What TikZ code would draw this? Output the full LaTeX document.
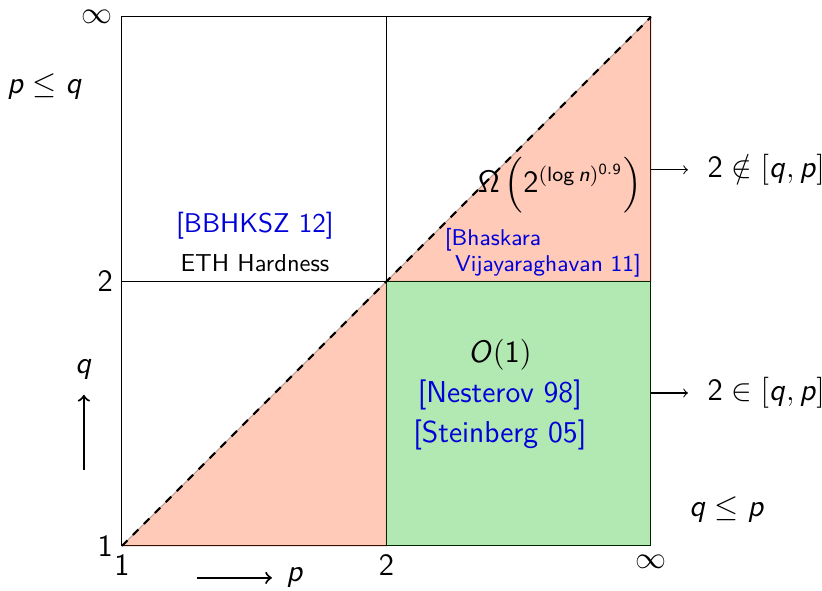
\documentclass[tikz,border=0pt]{standalone}
\usepackage{amsmath}
\usepackage{amssymb}
\usepackage{xcolor}
\usepackage{tikz}
\renewcommand{\familydefault}{\sfdefault}
% sans math letters and digits
\DeclareSymbolFont{sfitletters}{OT1}{cmss}{m}{sl}
\DeclareSymbolFont{sfupright}{OT1}{cmss}{m}{n}
\DeclareMathSymbol{p}{\mathalpha}{sfitletters}{`p}
\DeclareMathSymbol{q}{\mathalpha}{sfitletters}{`q}
\DeclareMathSymbol{n}{\mathalpha}{sfitletters}{`n}
\DeclareMathSymbol{O}{\mathalpha}{sfitletters}{`O}
\DeclareMathSymbol{0}{\mathalpha}{sfupright}{`0}
\DeclareMathSymbol{1}{\mathalpha}{sfupright}{`1}
\DeclareMathSymbol{2}{\mathalpha}{sfupright}{`2}
\DeclareMathSymbol{9}{\mathalpha}{sfupright}{`9}
\renewcommand{\log}{\mathop{\mathsf{log}}\nolimits}
\newcommand{\sfOmega}{\text{\sffamily\upshape Ω}}
\tikzset{
  pinkreg/.style={fill=red!50!orange,draw=black,opacity=0.28},
  greenreg/.style={fill=green!70!black,draw=black,opacity=0.3},
  cite/.style={text=blue!85!black}
}
\begin{document}
\begin{tikzpicture}[x=3.6cm,y=3.6cm,font=\sffamily]
\useasboundingbox (-0.461,-0.170) rectangle (2.647,2.064);
\draw (0,0) rectangle (2,2);
\draw (1,0) -- (1,2);
\draw (0,1) -- (2,1);
\filldraw[pinkreg] (0,0) -- (1,0) -- (1,1) -- cycle;
\filldraw[pinkreg] (1,1) -- (2,2) -- (2,1) -- cycle;
\filldraw[greenreg] (1,0) rectangle (2,1);
\draw[thick,dashed] (0,0) -- (2,2);
% tick labels
\node[left] (yone) at (0,0) {\large $1$};
\node[left] (ytwo) at (0,1) {\large $2$};
\node[left] (yinf) at (0,2) {\large $\infty$};
\node[below] (xone) at (0,0) {\large $1$};
\node[below] (xtwo) at (1,0) {\large $2$};
\node[below] (xinf) at (2,0) {\large $\infty$};
% axis arrows
\coordinate (qs) at (-0.144,0.287);
\coordinate (qe) at (-0.144,0.571);
\draw[thick,->] (qs) -- (qe);
\node (qlab) at (-0.144,0.665) {\large $q$};
\coordinate (ps) at (0.284,-0.121);
\coordinate (pe) at (0.567,-0.121);
\draw[thick,->] (ps) -- (pe);
\node (plab) at (0.654,-0.121) {\large $p$};
\node (pleq) at (-0.291,1.738) {\large $p \leq q$};
\node (qleq) at (2.287,0.136) {\large $q \leq p$};
% regions
\node[align=center,font=\sffamily\fontsize{9.5}{15}\selectfont] (eth) at (0.503,1.148) {\fontsize{10.5}{15}\selectfont\color{blue!85!black}[BBHKSZ 12]\\ ETH Hardness};
\node[inner sep=1pt] (omega) at (1.656,1.365) {\large $\sfOmega\left(2^{(\log n)^{0.9}}\right)$};
\node[cite,align=left,font=\sffamily\fontsize{8.85}{10}\selectfont] (bhask) at (1.592,1.108) {[Bhaskara\\\hspace{0.45em}Vijayaraghavan 11]};
\node[align=center,font=\sffamily\fontsize{11.7}{15.5}\selectfont] (ones) at (1.429,0.571) {$O(1)$\\ \color{blue!85!black}[Nesterov 98]\\ \color{blue!85!black}[Steinberg 05]};
% right side
\coordinate (ua) at (2,1.422);
\coordinate (ub) at (2.14,1.422);
\draw[->] (ua) -- (ub);
\node[anchor=west] (notin) at (2.18,1.422) {\large $2 \notin [q,p]$};
\coordinate (la) at (2,0.578);
\coordinate (lb) at (2.14,0.578);
\draw[->] (la) -- (lb);
\node[anchor=west] (isin) at (2.18,0.578) {\large $2 \in [q,p]$};
\end{tikzpicture}
\end{document}
